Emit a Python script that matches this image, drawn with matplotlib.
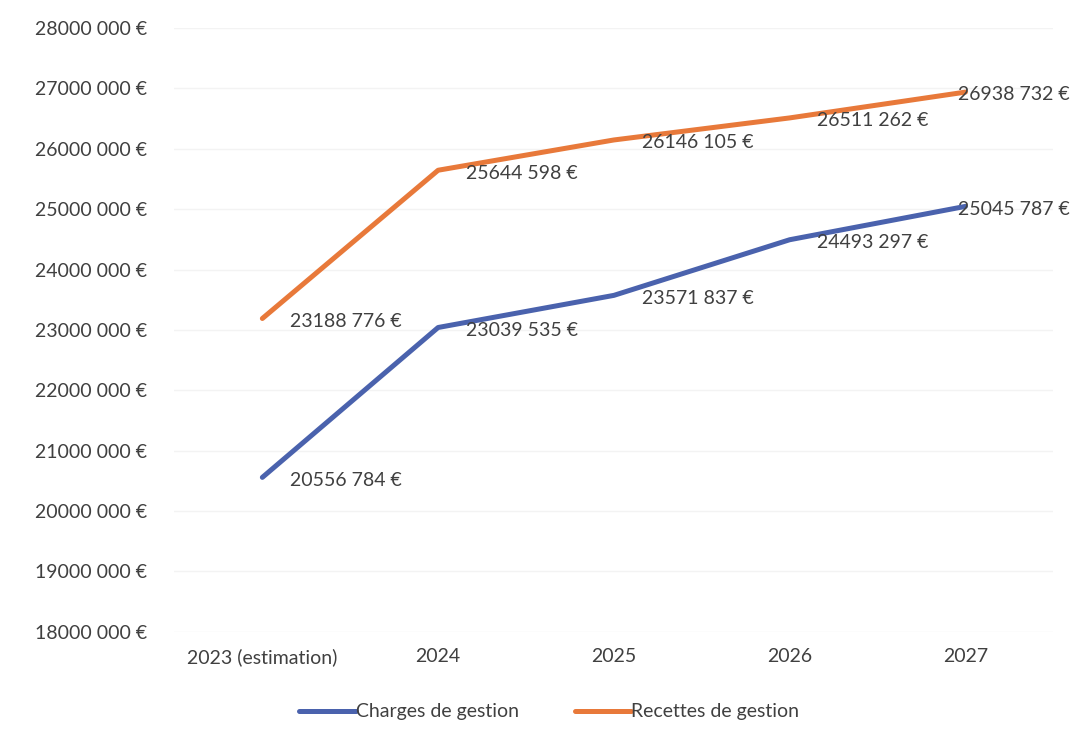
import matplotlib.pyplot as plt

# data
years = ["2023 (estimation)", "2024", "2025", "2026", "2027"]
charges = [20556784, 23039535, 23571837, 24493297, 25045787]
recettes = [23188776, 25644598, 26146105, 26511262, 26938732]
y_ticks = list(range(18000000, 28000001, 1000000))


def fmt_eur(v):
    v = int(round(v))
    return f"{v // 1000} {v % 1000:03d} €"


plt.rcParams['font.family'] = ['Lato', 'DejaVu Sans']
text_color = "#404040"
fs = 14

fig = plt.figure(figsize=(10.77, 7.38), dpi=100)
ax = fig.add_axes([0.162, 0.144, 0.816, 0.818])

x = list(range(len(years)))
blue = "#4a62ad"
orange = "#e8793a"
ax.plot(x, charges, color=blue, lw=3.6, solid_capstyle="round", label="Charges de gestion")
ax.plot(x, recettes, color=orange, lw=3.6, solid_capstyle="round", label="Recettes de gestion")

# data labels to the right of each point
for series in (charges, recettes):
    for i, v in enumerate(series):
        dx = 20 if i < len(series) - 1 else -5
        ax.annotate(fmt_eur(v), (i, v), xytext=(dx, -2), textcoords="offset points",
                    ha="left", va="center", fontsize=fs, color=text_color)

ax.set_xlim(-0.5, len(years) - 0.5)
ax.set_ylim(18000000, 28000000)
ax.set_xticks(x)
ax.set_xticklabels(years)
ax.set_yticks(y_ticks)
ax.set_yticklabels([fmt_eur(t) for t in y_ticks])
ax.tick_params(axis="both", length=0, labelsize=fs, colors=text_color)
ax.tick_params(axis="y", pad=20)
ax.tick_params(axis="x", pad=12)
ax.yaxis.grid(True, color="#f3f3f3", lw=1)
ax.set_axisbelow(True)
for s in ax.spines.values():
    s.set_visible(False)

leg = fig.legend(loc="lower center", bbox_to_anchor=(0.51, 0.0), ncol=2, frameon=False,
                 fontsize=fs, handlelength=2.9, handletextpad=0.0, columnspacing=2.9)
for t in leg.get_texts():
    t.set_color(text_color)

fig.savefig("out.png", dpi=100)
